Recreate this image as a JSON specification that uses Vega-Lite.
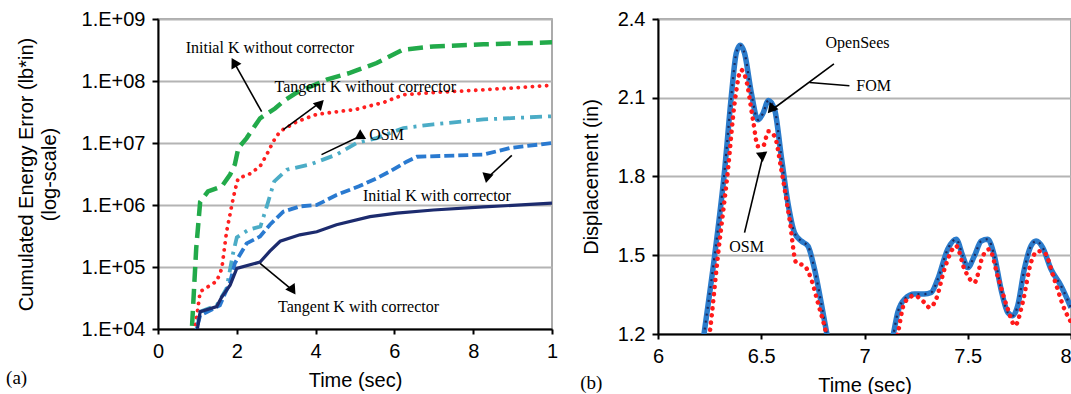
{
  "$schema": "https://vega.github.io/schema/vega-lite/v6.json",
  "autosize": {"type": "pad"},
  "padding": {"left": 5, "top": 8, "right": 0, "bottom": 4},
  "spacing": 20,
  "config": {
    "view": {"stroke": "#909090", "strokeWidth": 1.5},
    "axis": {
      "labelFont": "Liberation Sans", "titleFont": "Liberation Sans",
      "labelFontSize": 20, "titleFontSize": 20, "titleFontWeight": "normal",
      "labelColor": "#000", "titleColor": "#000",
      "domainColor": "#000", "domainWidth": 2,
      "tickColor": "#000", "tickWidth": 2,
      "gridColor": "#b4b4b4", "gridWidth": 2
    },
    "text": {"font": "Liberation Serif", "fontSize": 16, "color": "#000"}
  },
  "datasets": {
    "energy": [
      {"series": "IKnc", "t": 0.8, "e": 5000},
      {"series": "IKnc", "t": 0.86, "e": 10000},
      {"series": "IKnc", "t": 0.97, "e": 200000},
      {"series": "IKnc", "t": 1.07, "e": 1120000},
      {"series": "IKnc", "t": 1.27, "e": 1660000},
      {"series": "IKnc", "t": 1.62, "e": 2000000},
      {"series": "IKnc", "t": 1.83, "e": 3100000},
      {"series": "IKnc", "t": 1.95, "e": 4500000},
      {"series": "IKnc", "t": 2.04, "e": 8300000},
      {"series": "IKnc", "t": 2.25, "e": 12000000},
      {"series": "IKnc", "t": 2.59, "e": 25000000},
      {"series": "IKnc", "t": 2.97, "e": 36000000},
      {"series": "IKnc", "t": 3.18, "e": 47000000},
      {"series": "IKnc", "t": 3.52, "e": 65000000},
      {"series": "IKnc", "t": 4.28, "e": 105000000},
      {"series": "IKnc", "t": 4.87, "e": 135000000},
      {"series": "IKnc", "t": 5.55, "e": 195000000},
      {"series": "IKnc", "t": 6.22, "e": 320000000},
      {"series": "IKnc", "t": 6.98, "e": 360000000},
      {"series": "IKnc", "t": 8.26, "e": 390000000},
      {"series": "IKnc", "t": 10, "e": 420000000},
      {"series": "TKnc", "t": 0.9, "e": 7000},
      {"series": "TKnc", "t": 0.94, "e": 10000},
      {"series": "TKnc", "t": 1.07, "e": 40000},
      {"series": "TKnc", "t": 1.49, "e": 59000},
      {"series": "TKnc", "t": 1.62, "e": 95000},
      {"series": "TKnc", "t": 1.74, "e": 370000},
      {"series": "TKnc", "t": 1.91, "e": 1300000},
      {"series": "TKnc", "t": 2.01, "e": 2400000},
      {"series": "TKnc", "t": 2.04, "e": 2700000},
      {"series": "TKnc", "t": 2.34, "e": 3200000},
      {"series": "TKnc", "t": 2.59, "e": 4200000},
      {"series": "TKnc", "t": 2.76, "e": 6500000},
      {"series": "TKnc", "t": 2.93, "e": 10700000},
      {"series": "TKnc", "t": 3.1, "e": 15500000},
      {"series": "TKnc", "t": 3.52, "e": 22000000},
      {"series": "TKnc", "t": 4.03, "e": 29000000},
      {"series": "TKnc", "t": 5.04, "e": 35000000},
      {"series": "TKnc", "t": 5.72, "e": 45000000},
      {"series": "TKnc", "t": 6.23, "e": 60000000},
      {"series": "TKnc", "t": 6.99, "e": 65000000},
      {"series": "TKnc", "t": 8.26, "e": 72000000},
      {"series": "TKnc", "t": 10, "e": 85000000},
      {"series": "OSM", "t": 0.95, "e": 7000},
      {"series": "OSM", "t": 0.98, "e": 10000},
      {"series": "OSM", "t": 1.07, "e": 19000},
      {"series": "OSM", "t": 1.49, "e": 24000},
      {"series": "OSM", "t": 1.74, "e": 45000},
      {"series": "OSM", "t": 1.9, "e": 160000},
      {"series": "OSM", "t": 2.0, "e": 300000},
      {"series": "OSM", "t": 2.3, "e": 400000},
      {"series": "OSM", "t": 2.6, "e": 450000},
      {"series": "OSM", "t": 2.75, "e": 900000},
      {"series": "OSM", "t": 2.95, "e": 2400000},
      {"series": "OSM", "t": 3.27, "e": 3700000},
      {"series": "OSM", "t": 3.86, "e": 4500000},
      {"series": "OSM", "t": 4.53, "e": 6500000},
      {"series": "OSM", "t": 5.04, "e": 10000000},
      {"series": "OSM", "t": 5.55, "e": 12000000},
      {"series": "OSM", "t": 6.23, "e": 17400000},
      {"series": "OSM", "t": 6.99, "e": 20000000},
      {"series": "OSM", "t": 8.26, "e": 24000000},
      {"series": "OSM", "t": 10, "e": 27000000},
      {"series": "IKwc", "t": 0.95, "e": 7000},
      {"series": "IKwc", "t": 0.98, "e": 10000},
      {"series": "IKwc", "t": 1.07, "e": 16600},
      {"series": "IKwc", "t": 1.57, "e": 24000},
      {"series": "IKwc", "t": 1.83, "e": 57500},
      {"series": "IKwc", "t": 1.95, "e": 115000},
      {"series": "IKwc", "t": 2.25, "e": 240000},
      {"series": "IKwc", "t": 2.59, "e": 310000},
      {"series": "IKwc", "t": 2.84, "e": 480000},
      {"series": "IKwc", "t": 3.18, "e": 780000},
      {"series": "IKwc", "t": 3.6, "e": 950000},
      {"series": "IKwc", "t": 4.03, "e": 1000000},
      {"series": "IKwc", "t": 4.53, "e": 1450000},
      {"series": "IKwc", "t": 5.1, "e": 2000000},
      {"series": "IKwc", "t": 5.55, "e": 2700000},
      {"series": "IKwc", "t": 5.89, "e": 3500000},
      {"series": "IKwc", "t": 6.31, "e": 5000000},
      {"series": "IKwc", "t": 6.57, "e": 6000000},
      {"series": "IKwc", "t": 8.26, "e": 6500000},
      {"series": "IKwc", "t": 8.93, "e": 8300000},
      {"series": "IKwc", "t": 10, "e": 10000000},
      {"series": "TKwc", "t": 0.97, "e": 7000},
      {"series": "TKwc", "t": 1.0, "e": 10000},
      {"series": "TKwc", "t": 1.07, "e": 19000},
      {"series": "TKwc", "t": 1.49, "e": 23000},
      {"series": "TKwc", "t": 1.62, "e": 33000},
      {"series": "TKwc", "t": 1.83, "e": 51000},
      {"series": "TKwc", "t": 2.0, "e": 95000},
      {"series": "TKwc", "t": 2.59, "e": 120000},
      {"series": "TKwc", "t": 2.84, "e": 180000},
      {"series": "TKwc", "t": 3.1, "e": 260000},
      {"series": "TKwc", "t": 3.6, "e": 330000},
      {"series": "TKwc", "t": 4.03, "e": 370000},
      {"series": "TKwc", "t": 4.53, "e": 480000},
      {"series": "TKwc", "t": 5.38, "e": 650000},
      {"series": "TKwc", "t": 6.06, "e": 740000},
      {"series": "TKwc", "t": 6.99, "e": 830000},
      {"series": "TKwc", "t": 8.26, "e": 930000},
      {"series": "TKwc", "t": 10, "e": 1070000}
    ],
    "energyNotes": [
      {"t": 2.84, "e": 340000000, "label": "Initial K without corrector"},
      {"t": 5.26, "e": 79000000, "label": "Tangent K without corrector"},
      {"t": 5.8, "e": 13500000, "label": "OSM"},
      {"t": 7.08, "e": 1380000, "label": "Initial K with corrector"},
      {"t": 5.09, "e": 23000, "label": "Tangent K with corrector"}
    ],
    "energyArrows": [
      {"id": "a1", "t": 2.63, "e": 32000000, "t2": 1.93, "e2": 200000000},
      {"id": "a2", "t": 3.18, "e": 16400000, "t2": 4.05, "e2": 42000000},
      {"id": "a3", "t": 4.15, "e": 6500000, "t2": 5.1, "e2": 12600000},
      {"id": "a4", "t": 8.98, "e": 6300000, "t2": 8.35, "e2": 2700000},
      {"id": "a5", "t": 2.59, "e": 114000, "t2": 3.42, "e2": 42000}
    ],
    "disp": [
      {"series": "FOM", "t": 6.17, "d": 0.9},
      {"series": "FOM", "t": 6.223, "d": 1.2},
      {"series": "FOM", "t": 6.274, "d": 1.497},
      {"series": "FOM", "t": 6.323, "d": 1.827},
      {"series": "FOM", "t": 6.355, "d": 2.105},
      {"series": "FOM", "t": 6.379, "d": 2.27},
      {"series": "FOM", "t": 6.398, "d": 2.3},
      {"series": "FOM", "t": 6.419, "d": 2.27},
      {"series": "FOM", "t": 6.452, "d": 2.118},
      {"series": "FOM", "t": 6.484, "d": 2.016},
      {"series": "FOM", "t": 6.508, "d": 2.04},
      {"series": "FOM", "t": 6.535, "d": 2.09},
      {"series": "FOM", "t": 6.565, "d": 2.054},
      {"series": "FOM", "t": 6.597, "d": 1.877},
      {"series": "FOM", "t": 6.629, "d": 1.7},
      {"series": "FOM", "t": 6.661, "d": 1.586},
      {"series": "FOM", "t": 6.694, "d": 1.554},
      {"series": "FOM", "t": 6.726, "d": 1.535},
      {"series": "FOM", "t": 6.758, "d": 1.447},
      {"series": "FOM", "t": 6.79, "d": 1.32},
      {"series": "FOM", "t": 6.818, "d": 1.2},
      {"series": "FOM", "t": 6.86, "d": 1.02},
      {"series": "FOM", "t": 6.95, "d": 0.85},
      {"series": "FOM", "t": 7.05, "d": 0.9},
      {"series": "FOM", "t": 7.1, "d": 1.05},
      {"series": "FOM", "t": 7.14, "d": 1.2},
      {"series": "FOM", "t": 7.161, "d": 1.282},
      {"series": "FOM", "t": 7.194, "d": 1.333},
      {"series": "FOM", "t": 7.242, "d": 1.352},
      {"series": "FOM", "t": 7.29, "d": 1.352},
      {"series": "FOM", "t": 7.323, "d": 1.358},
      {"series": "FOM", "t": 7.355, "d": 1.409},
      {"series": "FOM", "t": 7.403, "d": 1.523},
      {"series": "FOM", "t": 7.444, "d": 1.561},
      {"series": "FOM", "t": 7.476, "d": 1.497},
      {"series": "FOM", "t": 7.5, "d": 1.453},
      {"series": "FOM", "t": 7.532, "d": 1.497},
      {"series": "FOM", "t": 7.565, "d": 1.554},
      {"series": "FOM", "t": 7.597, "d": 1.561},
      {"series": "FOM", "t": 7.629, "d": 1.497},
      {"series": "FOM", "t": 7.661, "d": 1.371},
      {"series": "FOM", "t": 7.694, "d": 1.282},
      {"series": "FOM", "t": 7.718, "d": 1.27},
      {"series": "FOM", "t": 7.742, "d": 1.308},
      {"series": "FOM", "t": 7.774, "d": 1.447},
      {"series": "FOM", "t": 7.806, "d": 1.535},
      {"series": "FOM", "t": 7.831, "d": 1.554},
      {"series": "FOM", "t": 7.863, "d": 1.529},
      {"series": "FOM", "t": 7.903, "d": 1.447},
      {"series": "FOM", "t": 7.952, "d": 1.383},
      {"series": "FOM", "t": 8.0, "d": 1.3},
      {"series": "OpenSees", "t": 6.17, "d": 0.9},
      {"series": "OpenSees", "t": 6.223, "d": 1.2},
      {"series": "OpenSees", "t": 6.274, "d": 1.497},
      {"series": "OpenSees", "t": 6.323, "d": 1.827},
      {"series": "OpenSees", "t": 6.355, "d": 2.105},
      {"series": "OpenSees", "t": 6.379, "d": 2.27},
      {"series": "OpenSees", "t": 6.398, "d": 2.3},
      {"series": "OpenSees", "t": 6.419, "d": 2.27},
      {"series": "OpenSees", "t": 6.452, "d": 2.118},
      {"series": "OpenSees", "t": 6.484, "d": 2.016},
      {"series": "OpenSees", "t": 6.508, "d": 2.04},
      {"series": "OpenSees", "t": 6.535, "d": 2.09},
      {"series": "OpenSees", "t": 6.565, "d": 2.054},
      {"series": "OpenSees", "t": 6.597, "d": 1.877},
      {"series": "OpenSees", "t": 6.629, "d": 1.7},
      {"series": "OpenSees", "t": 6.661, "d": 1.586},
      {"series": "OpenSees", "t": 6.694, "d": 1.554},
      {"series": "OpenSees", "t": 6.726, "d": 1.535},
      {"series": "OpenSees", "t": 6.758, "d": 1.447},
      {"series": "OpenSees", "t": 6.79, "d": 1.32},
      {"series": "OpenSees", "t": 6.818, "d": 1.2},
      {"series": "OpenSees", "t": 6.86, "d": 1.02},
      {"series": "OpenSees", "t": 6.95, "d": 0.85},
      {"series": "OpenSees", "t": 7.05, "d": 0.9},
      {"series": "OpenSees", "t": 7.1, "d": 1.05},
      {"series": "OpenSees", "t": 7.14, "d": 1.2},
      {"series": "OpenSees", "t": 7.161, "d": 1.282},
      {"series": "OpenSees", "t": 7.194, "d": 1.333},
      {"series": "OpenSees", "t": 7.242, "d": 1.352},
      {"series": "OpenSees", "t": 7.29, "d": 1.352},
      {"series": "OpenSees", "t": 7.323, "d": 1.358},
      {"series": "OpenSees", "t": 7.355, "d": 1.409},
      {"series": "OpenSees", "t": 7.403, "d": 1.523},
      {"series": "OpenSees", "t": 7.444, "d": 1.561},
      {"series": "OpenSees", "t": 7.476, "d": 1.497},
      {"series": "OpenSees", "t": 7.5, "d": 1.453},
      {"series": "OpenSees", "t": 7.532, "d": 1.497},
      {"series": "OpenSees", "t": 7.565, "d": 1.554},
      {"series": "OpenSees", "t": 7.597, "d": 1.561},
      {"series": "OpenSees", "t": 7.629, "d": 1.497},
      {"series": "OpenSees", "t": 7.661, "d": 1.371},
      {"series": "OpenSees", "t": 7.694, "d": 1.282},
      {"series": "OpenSees", "t": 7.718, "d": 1.27},
      {"series": "OpenSees", "t": 7.742, "d": 1.308},
      {"series": "OpenSees", "t": 7.774, "d": 1.447},
      {"series": "OpenSees", "t": 7.806, "d": 1.535},
      {"series": "OpenSees", "t": 7.831, "d": 1.554},
      {"series": "OpenSees", "t": 7.863, "d": 1.529},
      {"series": "OpenSees", "t": 7.903, "d": 1.447},
      {"series": "OpenSees", "t": 7.952, "d": 1.383},
      {"series": "OpenSees", "t": 8.0, "d": 1.3},
      {"series": "OSM", "t": 6.2, "d": 0.95},
      {"series": "OSM", "t": 6.25, "d": 1.2},
      {"series": "OSM", "t": 6.29, "d": 1.497},
      {"series": "OSM", "t": 6.339, "d": 1.827},
      {"series": "OSM", "t": 6.371, "d": 2.08},
      {"series": "OSM", "t": 6.403, "d": 2.206},
      {"series": "OSM", "t": 6.427, "d": 2.168},
      {"series": "OSM", "t": 6.46, "d": 2.016},
      {"series": "OSM", "t": 6.484, "d": 1.915},
      {"series": "OSM", "t": 6.508, "d": 1.915},
      {"series": "OSM", "t": 6.535, "d": 1.972},
      {"series": "OSM", "t": 6.565, "d": 1.953},
      {"series": "OSM", "t": 6.597, "d": 1.827},
      {"series": "OSM", "t": 6.637, "d": 1.637},
      {"series": "OSM", "t": 6.669, "d": 1.472},
      {"series": "OSM", "t": 6.71, "d": 1.459},
      {"series": "OSM", "t": 6.742, "d": 1.409},
      {"series": "OSM", "t": 6.774, "d": 1.32},
      {"series": "OSM", "t": 6.815, "d": 1.2},
      {"series": "OSM", "t": 6.86, "d": 1.0},
      {"series": "OSM", "t": 6.95, "d": 0.85},
      {"series": "OSM", "t": 7.06, "d": 0.88},
      {"series": "OSM", "t": 7.12, "d": 1.05},
      {"series": "OSM", "t": 7.161, "d": 1.2},
      {"series": "OSM", "t": 7.194, "d": 1.32},
      {"series": "OSM", "t": 7.242, "d": 1.346},
      {"series": "OSM", "t": 7.29, "d": 1.32},
      {"series": "OSM", "t": 7.315, "d": 1.301},
      {"series": "OSM", "t": 7.347, "d": 1.333},
      {"series": "OSM", "t": 7.387, "d": 1.447},
      {"series": "OSM", "t": 7.444, "d": 1.535},
      {"series": "OSM", "t": 7.484, "d": 1.447},
      {"series": "OSM", "t": 7.532, "d": 1.396},
      {"series": "OSM", "t": 7.573, "d": 1.497},
      {"series": "OSM", "t": 7.605, "d": 1.523},
      {"series": "OSM", "t": 7.645, "d": 1.42},
      {"series": "OSM", "t": 7.694, "d": 1.295},
      {"series": "OSM", "t": 7.729, "d": 1.232},
      {"series": "OSM", "t": 7.766, "d": 1.32},
      {"series": "OSM", "t": 7.806, "d": 1.472},
      {"series": "OSM", "t": 7.839, "d": 1.516},
      {"series": "OSM", "t": 7.871, "d": 1.51},
      {"series": "OSM", "t": 7.919, "d": 1.409},
      {"series": "OSM", "t": 7.968, "d": 1.295},
      {"series": "OSM", "t": 8.0, "d": 1.245}
    ],
    "dispNotes": [
      {"t": 6.966, "d": 2.31, "label": "OpenSees"},
      {"t": 7.044, "d": 2.146, "label": "FOM"},
      {"t": 6.429, "d": 1.532, "label": "OSM"}
    ],
    "dispArrows": [
      {"id": "b1", "t": 6.852, "d": 2.229, "t2": 6.56, "d2": 2.059},
      {"id": "leader", "t": 6.927, "d": 2.146, "t2": 6.734, "d2": 2.158},
      {"id": "b2", "t": 6.419, "d": 1.586, "t2": 6.51, "d2": 1.884}
    ]
  },
  "hconcat": [
    {
      "width": 394,
      "height": 310,
      "title": {"text": "(a)", "orient": "bottom", "anchor": "start", "dx": -10, "dy": -21, "offset": 0, "font": "Liberation Serif", "fontSize": 19, "fontWeight": "normal", "color": "#000"},
      "layer": [
        {
          "data": {"name": "energy"},
          "transform": [{"filter": "datum.series == 'IKnc'"}],
          "mark": {"type": "line", "clip": true, "color": "#22AA4A", "strokeWidth": 4.5, "strokeDash": [15, 7]},
          "encoding": {
            "x": {"field": "t", "type": "quantitative", "scale": {"domain": [0, 10], "nice": false},
                  "axis": {"values": [0, 2, 4, 6, 8, 10], "labelExpr": "datum.value == 10 ? '1' : datum.label", "title": "Time (sec)", "grid": false, "tickSize": 5, "labelPadding": 7, "titlePadding": 9, "labelFlush": false}},
            "y": {"field": "e", "type": "quantitative", "scale": {"type": "log", "domain": [10000, 1000000000], "nice": false},
                  "axis": {"values": [10000, 100000, 1000000, 10000000, 100000000, 1000000000], "labelExpr": "'1.E+0' + round(log(datum.value)/LN10)", "title": ["Cumulated Energy Error (lb*in)", "(log-scale)"], "titleLineHeight": 23, "grid": true, "tickSize": 6, "labelPadding": 7, "titlePadding": 22}}
          }
        },
        {
          "data": {"name": "energy"},
          "transform": [{"filter": "datum.series == 'TKnc'"}],
          "mark": {"type": "line", "clip": true, "color": "#FF2020", "strokeWidth": 3.8, "strokeDash": [0.1, 7], "strokeCap": "round"},
          "encoding": {"x": {"field": "t", "type": "quantitative"}, "y": {"field": "e", "type": "quantitative"}}
        },
        {
          "data": {"name": "energy"},
          "transform": [{"filter": "datum.series == 'OSM'"}],
          "mark": {"type": "line", "clip": true, "color": "#4BACC6", "strokeWidth": 3.8, "strokeDash": [12, 6, 3, 6]},
          "encoding": {"x": {"field": "t", "type": "quantitative"}, "y": {"field": "e", "type": "quantitative"}}
        },
        {
          "data": {"name": "energy"},
          "transform": [{"filter": "datum.series == 'IKwc'"}],
          "mark": {"type": "line", "clip": true, "color": "#2A7AD0", "strokeWidth": 3.8, "strokeDash": [10, 4]},
          "encoding": {"x": {"field": "t", "type": "quantitative"}, "y": {"field": "e", "type": "quantitative"}}
        },
        {
          "data": {"name": "energy"},
          "transform": [{"filter": "datum.series == 'TKwc'"}],
          "mark": {"type": "line", "clip": true, "color": "#1C2B6E", "strokeWidth": 3.2},
          "encoding": {"x": {"field": "t", "type": "quantitative"}, "y": {"field": "e", "type": "quantitative"}}
        },
        {
          "data": {"name": "energyArrows"},
          "mark": {"type": "rule", "color": "#000", "strokeWidth": 1.6},
          "encoding": {"x": {"field": "t", "type": "quantitative"}, "y": {"field": "e", "type": "quantitative"}, "x2": {"field": "t2"}, "y2": {"field": "e2"}}
        },
        {
          "data": {"name": "energyArrows"},
          "mark": {"type": "point", "shape": "triangle-up", "filled": true, "size": 130, "color": "#000", "opacity": 1},
          "encoding": {
            "x": {"field": "t2", "type": "quantitative"},
            "y": {"field": "e2", "type": "quantitative"},
            "angle": {"field": "id", "type": "nominal", "scale": {"domain": ["a1", "a2", "a3", "a4", "a5"], "range": [330.6, 53.6, 64.3, 227.5, 129.3]}, "legend": null}
          }
        },
        {
          "data": {"name": "energyNotes"},
          "mark": {"type": "text", "align": "center", "baseline": "middle", "font": "Liberation Serif", "fontSize": 16},
          "encoding": {"x": {"field": "t", "type": "quantitative"}, "y": {"field": "e", "type": "quantitative"}, "text": {"field": "label"}}
        }
      ]
    },
    {
      "width": 413,
      "height": 315,
      "title": {"text": "(b)", "orient": "bottom", "anchor": "start", "dx": -1, "dy": -21, "offset": 0, "font": "Liberation Serif", "fontSize": 19, "fontWeight": "normal", "color": "#000"},
      "layer": [
        {
          "data": {"name": "disp"},
          "transform": [{"filter": "datum.series == 'FOM'"}],
          "mark": {"type": "line", "clip": true, "color": "#2B7BCB", "strokeWidth": 5.5, "interpolate": "monotone"},
          "encoding": {
            "x": {"field": "t", "type": "quantitative", "scale": {"domain": [6, 8], "nice": false},
                  "axis": {"values": [6, 6.5, 7, 7.5, 8], "format": "~g", "title": "Time (sec)", "grid": false, "tickSize": 5, "labelPadding": 7, "titlePadding": 9, "labelFlush": false,
                           "labelAlign": {"condition": {"test": "datum.value == 8", "value": "right"}, "value": "center"}}},
            "y": {"field": "d", "type": "quantitative", "scale": {"domain": [1.2, 2.4], "nice": false, "zero": false},
                  "axis": {"values": [1.2, 1.5, 1.8, 2.1, 2.4], "format": ".1f", "title": "Displacement (in)", "grid": true, "tickSize": 6, "labelPadding": 7, "titlePadding": 16}}
          }
        },
        {
          "data": {"name": "disp"},
          "transform": [{"filter": "datum.series == 'OpenSees'"}],
          "mark": {"type": "line", "clip": true, "color": "#1C2A5E", "strokeWidth": 2.2, "strokeDash": [2, 5], "interpolate": "monotone"},
          "encoding": {"x": {"field": "t", "type": "quantitative"}, "y": {"field": "d", "type": "quantitative"}}
        },
        {
          "data": {"name": "disp"},
          "transform": [{"filter": "datum.series == 'OSM'"}],
          "mark": {"type": "line", "clip": true, "color": "#FF1A1A", "strokeWidth": 4.5, "strokeDash": [0.1, 7], "strokeCap": "round", "interpolate": "monotone"},
          "encoding": {"x": {"field": "t", "type": "quantitative"}, "y": {"field": "d", "type": "quantitative"}}
        },
        {
          "data": {"name": "dispArrows"},
          "mark": {"type": "rule", "color": "#000", "strokeWidth": 1.6},
          "encoding": {"x": {"field": "t", "type": "quantitative"}, "y": {"field": "d", "type": "quantitative"}, "x2": {"field": "t2"}, "y2": {"field": "d2"}}
        },
        {
          "data": {"name": "dispArrows"},
          "transform": [{"filter": "datum.id != 'leader'"}],
          "mark": {"type": "point", "shape": "triangle-up", "filled": true, "size": 130, "color": "#000", "opacity": 1},
          "encoding": {
            "x": {"field": "t2", "type": "quantitative"},
            "y": {"field": "d2", "type": "quantitative"},
            "angle": {"field": "id", "type": "nominal", "scale": {"domain": ["b1", "b2"], "range": [233.5, 13.5]}, "legend": null}
          }
        },
        {
          "data": {"name": "dispNotes"},
          "mark": {"type": "text", "align": "center", "baseline": "middle", "font": "Liberation Serif", "fontSize": 16},
          "encoding": {"x": {"field": "t", "type": "quantitative"}, "y": {"field": "d", "type": "quantitative"}, "text": {"field": "label"}}
        }
      ]
    }
  ]
}
